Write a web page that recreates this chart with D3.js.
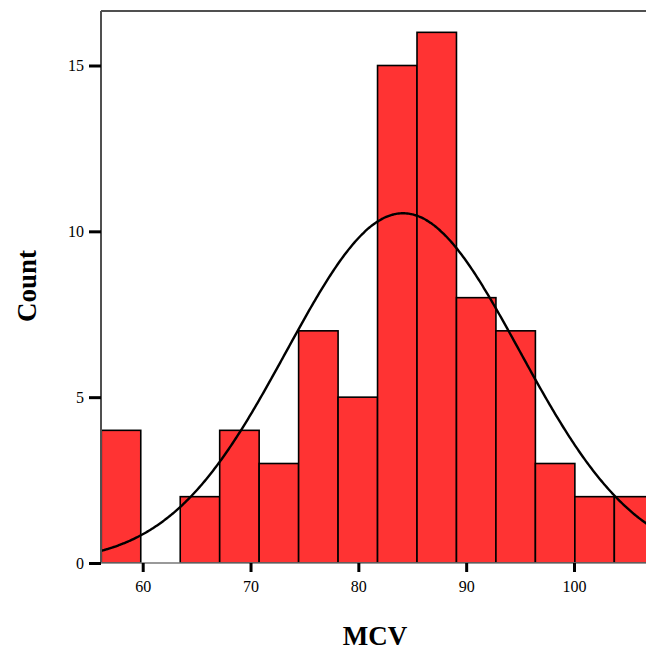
<!DOCTYPE html>
<html><head><meta charset="utf-8">
<script src="https://cdn.jsdelivr.net/npm/d3@7"></script>
<style>body{margin:0;background:#fff}svg{display:block}</style>
</head><body>
<svg id="c" width="646" height="653"></svg>
<script>
const binStart = 56.16;
const binWidth = 3.66;
const counts = [4, 0, 2, 4, 3, 7, 5, 15, 16, 8, 7, 3, 2, 2];
const xTicks = [60, 70, 80, 90, 100];
const yTicks = [0, 5, 10, 15];
const curveMean = 84.15;
const curveSD = 10.8;
const curveN = 78;

(function(){
const svg = d3.select("#c");
const pLeft = 101, pTop = 11, pBottom = 563, pRight = 660;
const x = d3.scaleLinear().domain([60, 100]).range([142.7, 574]);
const y = d3.scaleLinear().domain([0, 15]).range([pBottom, 65.5]);
const xMin = binStart, xMax = x.invert(pRight);

svg.append("defs").append("clipPath").attr("id","clip")
  .append("rect").attr("x", pLeft).attr("y", pTop).attr("width", pRight-pLeft).attr("height", pBottom-pTop);

const bins = counts.map((c,i)=>({x0: binStart + i*binWidth, x1: binStart+(i+1)*binWidth, c}));
const g = svg.append("g").attr("clip-path","url(#clip)");
g.selectAll("rect.bar").data(bins.filter(d=>d.c>0)).join("rect")
  .attr("class","bar")
  .attr("x", d=>x(d.x0)).attr("width", d=>x(d.x1)-x(d.x0))
  .attr("y", d=>y(d.c)).attr("height", d=>y(0)-y(d.c))
  .attr("fill","#ff3333").attr("stroke","#000").attr("stroke-width",1.6);

const pts = d3.range(0, 401).map(i => xMin + (xMax - xMin) * i / 400);
const dens = v => curveN * binWidth / (curveSD * Math.sqrt(2*Math.PI)) * Math.exp(-0.5*((v-curveMean)/curveSD)**2);
g.append("path").datum(pts)
  .attr("d", d3.line().x(v=>x(v)).y(v=>y(dens(v))).curve(d3.curveBasis))
  .attr("fill","none").attr("stroke","#000").attr("stroke-width",2.4);

svg.append("line").attr("x1", pLeft).attr("x2", 646).attr("y1", pTop).attr("y2", pTop).attr("stroke","#505050").attr("stroke-width",2);
svg.append("line").attr("x1", pLeft).attr("x2", pLeft).attr("y1", pTop).attr("y2", pBottom).attr("stroke","#505050").attr("stroke-width",2);
svg.append("line").attr("x1", pLeft).attr("x2", 646).attr("y1", pBottom).attr("y2", pBottom).attr("stroke","#777").attr("stroke-width",1.5);

const yAxis = d3.axisLeft(y).tickValues(yTicks).tickSize(12).tickPadding(5).tickFormat(d3.format("d"));
const ya = svg.append("g").attr("transform", `translate(${pLeft},0)`).call(yAxis);
ya.select(".domain").remove();
ya.selectAll(".tick line").attr("stroke","#000").attr("stroke-width",3);
ya.selectAll(".tick text").attr("font-family","'Liberation Serif', serif").attr("font-size",16).attr("fill","#000");

const xAxis = d3.axisBottom(x).tickValues(xTicks).tickSize(9).tickPadding(9).tickFormat(d3.format("d"));
const xa = svg.append("g").attr("transform", `translate(0,${pBottom})`).call(xAxis);
xa.select(".domain").remove();
xa.selectAll(".tick line").attr("stroke","#000").attr("stroke-width",3);
xa.selectAll(".tick text").attr("font-family","'Liberation Serif', serif").attr("font-size",16).attr("fill","#000");

svg.append("text").attr("x", 375).attr("y", 645).attr("text-anchor","middle")
  .attr("font-family","'Liberation Serif', serif").attr("font-weight","bold").attr("font-size",27).text("MCV");
svg.append("text").attr("transform","translate(36,286) rotate(-90)").attr("text-anchor","middle")
  .attr("font-family","'Liberation Serif', serif").attr("font-weight","bold").attr("font-size",27).text("Count");
})();
</script>
</body></html>
